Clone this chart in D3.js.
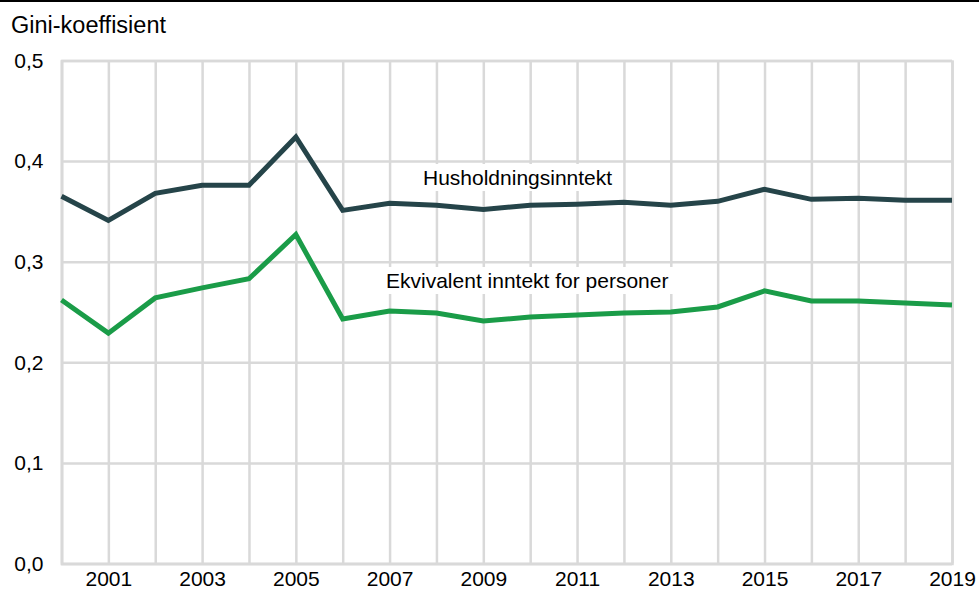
<!DOCTYPE html>
<html>
<head>
<meta charset="utf-8">
<script src="https://cdn.jsdelivr.net/npm/d3@7"></script>
<style>
  html, body { margin: 0; padding: 0; background: #fff; }
  svg { display: block; font-family: "Liberation Sans", Arial, sans-serif; }
</style>
</head>
<body>
<svg id="chart" width="979" height="590"></svg>
<script>
const years = [2000,2001,2002,2003,2004,2005,2006,2007,2008,2009,2010,2011,2012,2013,2014,2015,2016,2017,2018,2019];
const husholdning = [0.365,0.341,0.368,0.376,0.376,0.424,0.351,0.358,0.356,0.352,0.356,0.357,0.359,0.356,0.360,0.372,0.362,0.363,0.361,0.361];
const ekvivalent = [0.262,0.229,0.264,0.274,0.283,0.327,0.243,0.251,0.249,0.241,0.245,0.247,0.249,0.250,0.255,0.271,0.261,0.261,0.259,0.257];
const yTicks = [0,0.1,0.2,0.3,0.4,0.5];
const xTickLabels = [2001,2003,2005,2007,2009,2011,2013,2015,2017,2019];
const yTitle = "Gini-koeffisient";
const seriesNames = ["Husholdningsinntekt", "Ekvivalent inntekt for personer"];

const svg = d3.select("#chart");
const x = d3.scaleLinear().domain([2000, 2019]).range([61.5, 952]);
const y = d3.scaleLinear().domain([0, 0.5]).range([563.5, 60.5]);
const gridColor = "#d9d9d9";
const fmt = d => d3.format(".1f")(d).replace(".", ",");

// top rule
svg.append("line").attr("x1", 0).attr("x2", 979).attr("y1", 1).attr("y2", 1)
  .attr("stroke", "#000").attr("stroke-width", 2);

// title
svg.append("text").attr("x", 11).attr("y", 33).attr("font-size", 23.5).attr("fill", "#000").text(yTitle);

// horizontal grid
const gy = svg.append("g").attr("transform", `translate(${x(2000)},0)`)
  .call(d3.axisLeft(y).tickValues(yTicks).tickSize(-(x(2019) - x(2000))).tickFormat(fmt).tickPadding(18));
gy.select(".domain").attr("stroke", gridColor).attr("stroke-width", 2.5);
gy.selectAll(".tick line").attr("stroke", gridColor).attr("stroke-width", 2.5);
gy.selectAll(".tick text").attr("font-size", 21).attr("fill", "#000")
  .attr("font-family", "'Liberation Sans', Arial, sans-serif");

// vertical grid + x axis
const gx = svg.append("g").attr("transform", `translate(0,${y(0)})`)
  .call(d3.axisBottom(x).tickValues(years).tickSize(-(y(0) - y(0.5)))
    .tickFormat(d => xTickLabels.includes(d) ? String(d) : "").tickPadding(8));
gx.select(".domain").attr("stroke", gridColor).attr("stroke-width", 2.5);
gx.selectAll(".tick line").attr("stroke", gridColor).attr("stroke-width", 2.5);
gx.selectAll(".tick text").attr("font-size", 21).attr("fill", "#000")
  .attr("font-family", "'Liberation Sans', Arial, sans-serif");

// labels with white background
function label(txt, xPos, yBase) {
  const g = svg.append("g");
  const r = g.append("rect").attr("fill", "#fff");
  const t = g.append("text").attr("x", xPos).attr("y", yBase).attr("font-size", 21).attr("fill", "#000").text(txt);
  const b = t.node().getBBox();
  r.attr("x", b.x - 10).attr("y", b.y - 2).attr("width", b.width + 20).attr("height", b.height + 4);
}
label(seriesNames[0], 423, 185);
label(seriesNames[1], 386, 288);

// lines
const line = d3.line().x((d, i) => x(years[i])).y(d => y(d));
svg.append("path").datum(husholdning).attr("d", line).attr("fill", "none")
  .attr("stroke", "#254449").attr("stroke-width", 5).attr("stroke-linejoin", "miter");
svg.append("path").datum(ekvivalent).attr("d", line).attr("fill", "none")
  .attr("stroke", "#1a9c48").attr("stroke-width", 5).attr("stroke-linejoin", "miter");
</script>
</body>
</html>
